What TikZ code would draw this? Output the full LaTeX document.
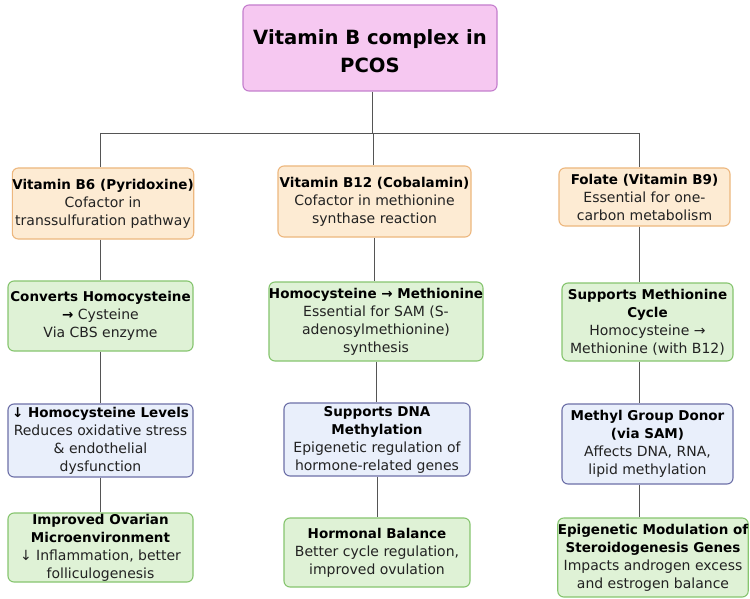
\documentclass[tikz,border=0pt]{standalone}
\usepackage{fontspec}
\setmainfont{DejaVu Sans}
\definecolor{orfill}{HTML}{FDEBD3}
\definecolor{ordraw}{HTML}{EDB77E}
\definecolor{grfill}{HTML}{DFF2D6}
\definecolor{grdraw}{HTML}{86C56F}
\definecolor{blfill}{HTML}{E9EFFB}
\definecolor{bldraw}{HTML}{6D70A8}
\definecolor{pkfill}{HTML}{F6C8F1}
\definecolor{pkdraw}{HTML}{C47ECD}
\definecolor{txt}{HTML}{222222}
\definecolor{lnk}{HTML}{555555}
\newcommand\bt[1]{{\fontsize{13.5}{18}\selectfont\bfseries\color{black}#1}}
\begin{document}
\begin{tikzpicture}[x=1pt,y=-1pt,
  box/.style={rounded corners=6pt, line width=1.1pt, align=center, inner sep=0pt,
    text=txt, font=\fontsize{14}{18}\selectfont},
  orbox/.style={box, draw=ordraw, fill=orfill},
  grbox/.style={box, draw=grdraw, fill=grfill},
  blbox/.style={box, draw=bldraw, fill=blfill},
  link/.style={draw=lnk, line width=0.9pt}]
\useasboundingbox (0,0) rectangle (750,599);
\fill[white] (0,0) rectangle (750,599);
% title
\node[box, draw=pkdraw, fill=pkfill, minimum width=254pt, minimum height=86pt,
  font=\fontsize{19.6}{28}\selectfont\bfseries, text=black] (title) at (370,48)
  {\rule{0pt}{22pt}Vitamin B complex in\\PCOS};
% row 1
\node[orbox, minimum width=180pt, minimum height=71pt] (b6) at (103,203.5)
  {\bt{Vitamin B6 (Pyridoxine)}\\Cofactor in\\transsulfuration pathway};
\node[orbox, minimum width=193pt, minimum height=71pt] (b12) at (374.5,201.5)
  {\bt{Vitamin B12 (Cobalamin)}\\Cofactor in methionine\\synthase reaction};
\node[orbox, minimum width=171pt, minimum height=58pt] (fol) at (644.5,197)
  {\bt{Folate (Vitamin B9)}\\Essential for one-\\carbon metabolism};
% row 2
\node[grbox, minimum width=185pt, minimum height=70pt] (conv) at (100.5,316)
  {\bt{Converts Homocysteine}\\\bt{→} Cysteine\\Via CBS enzyme};
\node[grbox, minimum width=212pt, minimum height=79pt] (hm) at (376,321.5)
  {\bt{Homocysteine → Methionine}\\Essential for SAM (S-\\adenosylmethionine)\\synthesis};
\node[grbox, minimum width=171pt, minimum height=78pt] (smc) at (647.5,322)
  {\bt{Supports Methionine}\\\bt{Cycle}\\Homocysteine →\\Methionine (with B12)};
% row 3
\node[blbox, minimum width=185pt, minimum height=73pt] (hcy) at (100.5,440.5)
  {\bt{↓ Homocysteine Levels}\\Reduces oxidative stress\\\& endothelial\\dysfunction};
\node[blbox, minimum width=186pt, minimum height=73pt] (dna) at (377,439.5)
  {\bt{Supports DNA}\\\bt{Methylation}\\Epigenetic regulation of\\hormone-related genes};
\node[blbox, minimum width=171pt, minimum height=80pt] (mgd) at (647.5,444)
  {\bt{Methyl Group Donor}\\\bt{(via SAM)}\\Affects DNA, RNA,\\lipid methylation};
% row 4
\node[grbox, minimum width=185pt, minimum height=69pt] (ova) at (100.5,547.5)
  {\bt{Improved Ovarian}\\\bt{Microenvironment}\\↓ Inflammation, better\\folliculogenesis};
\node[grbox, minimum width=186pt, minimum height=69pt] (hb) at (377,552.5)
  {\bt{Hormonal Balance}\\Better cycle regulation,\\improved ovulation};
\node[grbox, minimum width=188pt, minimum height=79pt] (epi) at (653,557.5)
  {\bt{Epigenetic Modulation of}\\\bt{Steroidogenesis Genes}\\Impacts androgen excess\\and estrogen balance};
% connectors
\coordinate (j) at (372,133);
\coordinate (k1) at (100,133);
\coordinate (k2) at (373,133);
\coordinate (k3) at (639,133);
\coordinate (m2) at (374,0);
\coordinate (n2) at (376,0);
\coordinate (p2) at (377,0);
\path[link] (title.south -| j) -- (j);
\path[link] (k1) -- (k3);
\path[link] (k1) -- (k1 |- b6.north);
\path[link] (k2) -- (k2 |- b12.north);
\path[link] (k3) -- (k3 |- fol.north);
\path[link] (b6.south -| k1) -- (conv.north -| k1);
\path[link] (conv.south -| k1) -- (hcy.north -| k1);
\path[link] (hcy.south -| k1) -- (ova.north -| k1);
\path[link] (b12.south -| m2) -- (hm.north -| m2);
\path[link] (hm.south -| n2) -- (dna.north -| n2);
\path[link] (dna.south -| p2) -- (hb.north -| p2);
\path[link] (fol.south -| k3) -- (smc.north -| k3);
\path[link] (smc.south -| k3) -- (mgd.north -| k3);
\path[link] (mgd.south -| k3) -- (epi.north -| k3);
\end{tikzpicture}
\end{document}
